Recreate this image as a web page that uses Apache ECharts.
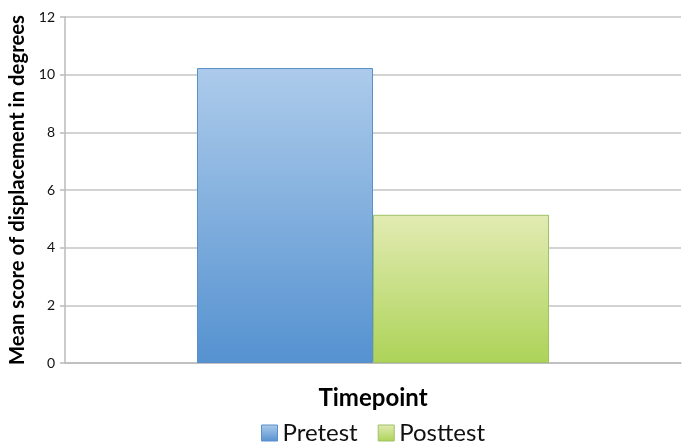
<!DOCTYPE html>
<html><head><meta charset="utf-8">
<script src="https://cdn.jsdelivr.net/npm/echarts@6/dist/echarts.min.js"></script>
<style>html,body{margin:0;padding:0;background:#fff}#c{width:686px;height:443px}</style>
</head><body><div id="c"></div>
<script>
const categories = [''];
const seriesNames = ['Pretest', 'Posttest'];
const pretest = [10.23];
const posttest = [5.14];
const yTicks = [0, 2, 4, 6, 8, 10, 12];

const F = 'Lato, "Open Sans", sans-serif';
const grad = (top, bottom) => new echarts.graphic.LinearGradient(0, 0, 0, 1, [{offset: 0, color: top}, {offset: 1, color: bottom}]);
const blueStyle = {color: grad('#adcbeb', '#5592d0'), borderColor: '#5b8fc9', borderWidth: 1};
const greenStyle = {color: grad('#e2ebb3', '#add358'), borderColor: '#9fc166', borderWidth: 1};

const chart = echarts.init(document.getElementById('c'));
chart.setOption({
  animation: false,
  backgroundColor: '#fff',
  grid: {left: 65, right: 5, top: 17, bottom: 80, containLabel: false, outerBoundsMode: 'none'},
  legend: {
    top: 416, left: 256, itemWidth: 16, itemHeight: 16, itemGap: 20,
    textStyle: {fontFamily: F, fontSize: 24, color: '#111'},
    data: [
      {name: seriesNames[0], icon: 'rect', itemStyle: blueStyle},
      {name: seriesNames[1], icon: 'rect', itemStyle: greenStyle}
    ]
  },
  xAxis: {
    type: 'category', data: categories,
    name: 'Timepoint', nameLocation: 'middle', nameGap: 23,
    nameTextStyle: {fontFamily: F, fontSize: 24, fontWeight: 'bold', color: '#000'},
    axisLine: {lineStyle: {color: '#bbb', width: 1.5}},
    axisTick: {show: false}, axisLabel: {show: false}
  },
  yAxis: {
    type: 'value', min: yTicks[0], max: yTicks[yTicks.length - 1], interval: 2,
    name: 'Mean score of displacement in degrees', nameLocation: 'middle', nameGap: 35,
    nameTextStyle: {fontFamily: F, fontSize: 20.3, fontWeight: 'bold', color: '#000'},
    axisLine: {show: true, lineStyle: {color: '#bbb', width: 1.5}},
    axisTick: {show: true, length: 5, lineStyle: {color: '#bbb', width: 1.5}},
    axisLabel: {fontFamily: F, fontSize: 14, color: '#111', margin: 10},
    splitLine: {lineStyle: {color: '#c4c4c4', width: 1.5}}
  },
  series: [
    {name: seriesNames[0], type: 'bar', data: pretest, barWidth: 176, barGap: '0%', itemStyle: blueStyle,
      emphasis: {disabled: true}},
    {name: seriesNames[1], type: 'bar', data: posttest, barWidth: 176, barGap: '0%', itemStyle: greenStyle,
      emphasis: {disabled: true}}
  ]
});
</script></body></html>
